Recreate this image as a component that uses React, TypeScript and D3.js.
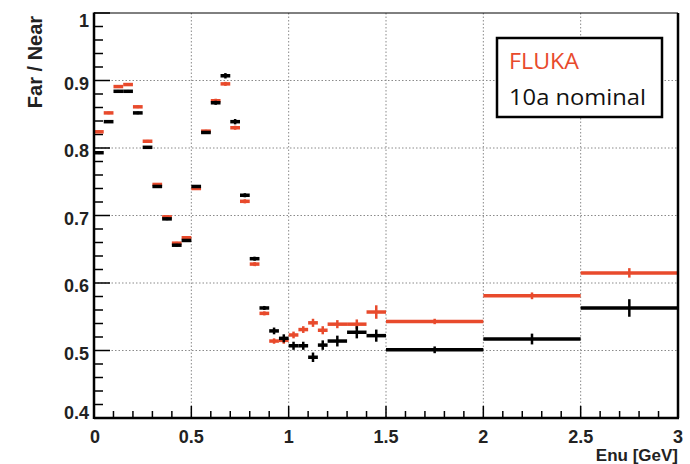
import React from "react";
import * as d3 from "d3";

const binEdges = [
  0, 0.05, 0.1, 0.15, 0.2, 0.25, 0.3, 0.35, 0.4, 0.45, 0.5, 0.55, 0.6, 0.65, 0.7, 0.75,
  0.8, 0.85, 0.9, 0.95, 1.0, 1.05, 1.1, 1.15, 1.2, 1.3, 1.4, 1.5, 2.0, 2.5, 3.0,
];
const flukaValues = [
  0.824, 0.852, 0.891, 0.894, 0.861, 0.81, 0.746, 0.698, 0.659, 0.667, 0.74, 0.825, 0.87,
  0.895, 0.83, 0.721, 0.628, 0.555, 0.514, 0.515, 0.523, 0.531, 0.541, 0.53, 0.539, 0.539,
  0.557, 0.543, 0.581, 0.615,
];
const flukaErrors = [
  0.002, 0.002, 0.002, 0.002, 0.002, 0.002, 0.002, 0.002, 0.002, 0.002, 0.002, 0.002, 0.003,
  0.003, 0.003, 0.003, 0.003, 0.003, 0.004, 0.005, 0.005, 0.005, 0.006, 0.006, 0.006, 0.007,
  0.01, 0.004, 0.005, 0.007,
];
const nominalValues = [
  0.793, 0.839, 0.884, 0.884, 0.852, 0.801, 0.743, 0.695, 0.656, 0.663, 0.743, 0.823, 0.867,
  0.907, 0.839, 0.73, 0.636, 0.563, 0.529, 0.518, 0.507, 0.507, 0.49, 0.508, 0.514, 0.527,
  0.522, 0.501, 0.517, 0.563,
];
const nominalErrors = [
  0.002, 0.002, 0.002, 0.002, 0.002, 0.002, 0.002, 0.002, 0.002, 0.002, 0.002, 0.002, 0.003,
  0.004, 0.004, 0.003, 0.003, 0.003, 0.005, 0.006, 0.006, 0.006, 0.007, 0.007, 0.008, 0.009,
  0.009, 0.005, 0.008, 0.013,
];
const xTicks = [0, 0.5, 1, 1.5, 2, 2.5, 3];
const xTickLabels = ["0", "0.5", "1", "1.5", "2", "2.5", "3"];
const yTicks = [0.4, 0.5, 0.6, 0.7, 0.8, 0.9, 1.0];
const yTickLabels = ["0.4", "0.5", "0.6", "0.7", "0.8", "0.9", "1"];
const seriesNames = ["FLUKA", "10a nominal"];

const RED = "#e84a2c";
const BLACK = "#000";
const FONT = "'Liberation Sans', Arial, Helvetica, sans-serif";

export default function App() {
  const left = 94, right = 678, top = 13, bottom = 418;
  const x = d3.scaleLinear().domain([0, 3]).range([left, right]);
  const y = d3.scaleLinear().domain([0.4, 1]).range([bottom, top]);
  const xMinor = d3.range(0, 3.0001, 0.1);
  const yMinor = d3.range(0.4, 1.0001, 0.02);

  const series = (vals: number[], errs: number[], color: string, key: string) =>
    vals.map((v, i) => {
      const x0 = x(binEdges[i]);
      const x1 = x(binEdges[i + 1]);
      const xc = (x0 + x1) / 2;
      return (
        <g key={key + i} stroke={color} strokeLinecap="butt">
          <line x1={x0} x2={x1} y1={y(v)} y2={y(v)} strokeWidth={3.5} />
          <line x1={xc} x2={xc} y1={y(v - errs[i])} y2={y(v + errs[i])} strokeWidth={2.5} />
        </g>
      );
    });

  return (
    <svg width={690} height={464} style={{ position: "absolute", left: 0, top: 0, background: "#fff" }}>
      <rect x={0} y={0} width={690} height={464} fill="#fff" />
      {/* grid */}
      {xTicks.slice(1, -1).map((t) => (
        <line key={"gx" + t} x1={x(t)} x2={x(t)} y1={top} y2={bottom} stroke="#8a8a8a" strokeWidth={1} strokeDasharray="1.5,2" />
      ))}
      {yTicks.slice(1, -1).map((t) => (
        <line key={"gy" + t} x1={left} x2={right} y1={y(t)} y2={y(t)} stroke="#8a8a8a" strokeWidth={1} strokeDasharray="1.5,2" />
      ))}
      {/* ticks */}
      {yMinor.map((t, i) => {
        const major = i % 5 === 0;
        return <line key={"ty" + i} x1={left} x2={left + (major ? 16 : 9)} y1={y(t)} y2={y(t)} stroke="#000" strokeWidth={1.5} />;
      })}
      {xMinor.map((t, i) => {
        const major = i % 5 === 0;
        return <line key={"tx" + i} x1={x(t)} x2={x(t)} y1={bottom} y2={bottom - (major ? 12 : 7)} stroke="#000" strokeWidth={1.5} />;
      })}
      {/* data */}
      {series(flukaValues, flukaErrors, RED, "f")}
      {series(nominalValues, nominalErrors, BLACK, "n")}
      {/* frame */}
      <line x1={left} x2={right} y1={top} y2={top} stroke="#000" strokeWidth={1} />
      <line x1={right} x2={right} y1={top} y2={bottom} stroke="#000" strokeWidth={2.5} />
      <line x1={left} x2={left} y1={top - 0.5} y2={bottom + 1} stroke="#000" strokeWidth={2.5} />
      <line x1={left} x2={right + 1} y1={bottom} y2={bottom} stroke="#000" strokeWidth={2.5} />
      {/* tick labels */}
      {yTicks.map((t, i) => (
        <text key={"ly" + t} x={89} y={Math.min(Math.max(y(t) + 3, 21), 413)} dy="0.36em" textAnchor="end" fontFamily={FONT} fontWeight="bold" fontSize={18} fill="#222">
          {yTickLabels[i]}
        </text>
      ))}
      {xTicks.map((t, i) => (
        <text key={"lx" + t} x={x(t) + (i === 0 ? 1 : 0)} y={443} textAnchor="middle" fontFamily={FONT} fontWeight="bold" fontSize={18} fill="#222">
          {xTickLabels[i]}
        </text>
      ))}
      {/* axis titles */}
      <text x={678} y={461} textAnchor="end" fontFamily={FONT} fontWeight="bold" fontSize={17} fill="#222">
        Enu [GeV]
      </text>
      <text transform="translate(42,62) rotate(-90)" textAnchor="middle" fontFamily={FONT} fontWeight="bold" fontSize={20} fill="#222">
        Far / Near
      </text>
      {/* legend */}
      <rect x={497} y={38} width={165} height={79} fill="#fff" stroke="#000" strokeWidth={2.5} />
      <text x={509} y={69} fontFamily="'Open Sans', sans-serif" fontSize={21} fill={RED} textLength={70} lengthAdjust="spacingAndGlyphs">
        {seriesNames[0]}
      </text>
      <text x={509} y={105} fontFamily="'Open Sans', sans-serif" fontSize={21} fill="#111" textLength={137} lengthAdjust="spacingAndGlyphs">
        {seriesNames[1]}
      </text>
    </svg>
  );
}
